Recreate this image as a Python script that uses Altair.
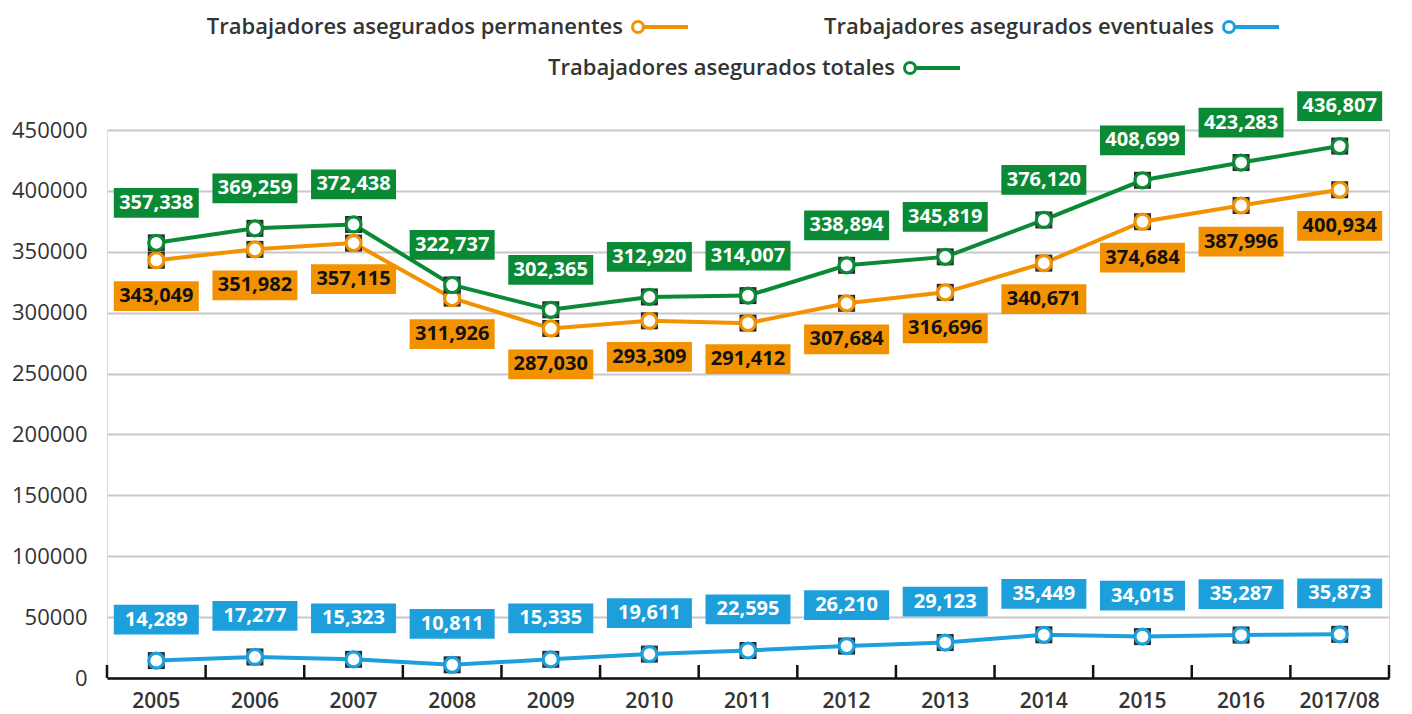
import altair as alt
import pandas as pd

years = ["2005", "2006", "2007", "2008", "2009", "2010", "2011", "2012", "2013",
         "2014", "2015", "2016", "2017/08"]
permanentes = [343049, 351982, 357115, 311926, 287030, 293309, 291412, 307684,
               316696, 340671, 374684, 387996, 400934]
eventuales = [14289, 17277, 15323, 10811, 15335, 19611, 22595, 26210, 29123,
              35449, 34015, 35287, 35873]
totales = [357338, 369259, 372438, 322737, 302365, 312920, 314007, 338894,
           345819, 376120, 408699, 423283, 436807]

series_names = ["Trabajadores asegurados permanentes",
                "Trabajadores asegurados eventuales",
                "Trabajadores asegurados totales"]
series_values = [permanentes, eventuales, totales]
series_colors = ["#f39200", "#1c9fdb", "#0b8a36"]
label_text_colors = ["#111111", "#ffffff", "#ffffff"]
label_offsets = [36, -41, -40]

W, H = 1282, 548
FONT = "Open Sans"

rows = []
for name, vals in zip(series_names, series_values):
    for y, v in zip(years, vals):
        rows.append({"year": y, "serie": name, "valor": v,
                     "etiqueta": f"{v:,}"})
df = pd.DataFrame(rows)

xenc = alt.X("year:N", sort=years, title=None,
             scale=alt.Scale(type="band", paddingInner=0, paddingOuter=0),
             axis=alt.Axis(labelFontSize=21, labelFont=FONT, labelFontWeight=600,
                           labelColor="#333333", labelPadding=12, ticks=False,
                           domainColor="#111111", domainWidth=2.5, labelAngle=0,
                           grid=False))
yenc = alt.Y("valor:Q", title=None,
             scale=alt.Scale(domain=[0, 450000], nice=False),
             axis=alt.Axis(values=list(range(0, 450001, 50000)), format="d",
                           labelFontSize=22, labelFont=FONT, labelColor="#333333",
                           labelPadding=20, domain=False, ticks=False,
                           grid=True, gridColor="#c8c8c8", gridWidth=2))

layers = []
base = alt.Chart(df)
for name, color in zip(series_names, series_colors):
    sub = base.transform_filter(alt.datum.serie == name)
    layers.append(sub.mark_line(color=color, strokeWidth=4).encode(x=xenc, y=yenc))

for name, color in zip(series_names, series_colors):
    sub = base.transform_filter(alt.datum.serie == name)
    layers.append(sub.mark_point(shape="square", size=289, filled=True,
                                 color="#2b2b2b", opacity=1).encode(x="year:N", y="valor:Q"))
    layers.append(sub.mark_point(shape="circle", size=225, filled=True, fill="white",
                                 stroke=color, strokeWidth=3.2, opacity=1)
                  .encode(x="year:N", y="valor:Q"))

box_path = "M-1,-0.35H1V0.35H-1Z"
for name, color, tcolor, off in zip(series_names, series_colors,
                                    label_text_colors, label_offsets):
    sub = base.transform_filter(alt.datum.serie == name)
    layers.append(sub.mark_point(shape=box_path, size=85 * 85, filled=True,
                                 color=color, opacity=1, yOffset=off)
                  .encode(x="year:N", y="valor:Q"))
    layers.append(sub.mark_text(dy=off, fontSize=20, font=FONT, fontWeight="bold",
                                color=tcolor)
                  .encode(x="year:N", y="valor:Q", text="etiqueta:N"))

# inward axis ticks at band boundaries
tick_df = pd.DataFrame({"year": years})
layers.append(alt.Chart(tick_df).mark_rule(color="#111111", strokeWidth=2.5).encode(
    x=alt.X("year:N", bandPosition=0), y=alt.value(H), y2=alt.value(H - 13)))
layers.append(alt.Chart(pd.DataFrame({"year": [years[-1]]}))
              .mark_rule(color="#111111", strokeWidth=2.5).encode(
    x=alt.X("year:N", bandPosition=1), y=alt.value(H), y2=alt.value(H - 13)))

# custom legend (label left of symbol)
legend_pos = [(516, -103), (1107, -103), (788, -62)]
one = pd.DataFrame({"k": [0]})
for name, color, (tx, ty) in zip(series_names, series_colors, legend_pos):
    lc = alt.Chart(one)
    layers.append(lc.mark_text(align="right", baseline="middle", fontSize=22,
                               font=FONT, fontWeight=600, color="#333333",
                               text=name)
                  .encode(x=alt.value(tx), y=alt.value(ty)))
    layers.append(lc.mark_rule(color=color, strokeWidth=4)
                  .encode(x=alt.value(tx + 15), x2=alt.value(tx + 65), y=alt.value(ty)))
    layers.append(lc.mark_point(shape="circle", size=120, filled=True, fill="white",
                                stroke=color, strokeWidth=3, opacity=1)
                  .encode(x=alt.value(tx + 15), y=alt.value(ty)))

chart = alt.layer(*layers).properties(
    width=W, height=H, padding={"left": 3, "top": 7, "right": 5, "bottom": 2}
).configure_view(stroke=None).configure(background="white")

chart.save("out.html", embed_options={"renderer": "svg", "actions": False})
